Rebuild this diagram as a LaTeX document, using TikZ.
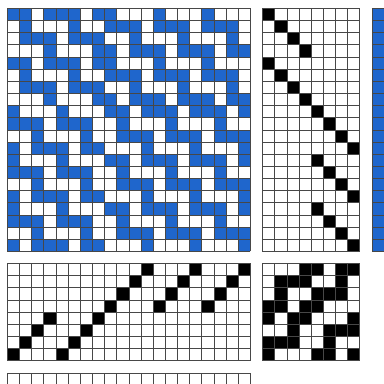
\documentclass[tikz,border=0pt]{standalone}
\usepackage{tikz}
\definecolor{pickblue}{RGB}{31,102,204}

\begin{document}
\begin{tikzpicture}[
  x=4mm, y=4mm,
  gridline/.style={draw=black!72, line width=0.5pt, step=1},
  bluecell/.style={fill=pickblue},
  blackcell/.style={fill=black}
]
\useasboundingbox (-0.6,0.68) rectangle (31.0,-30.84);
\clip (-0.6,0.68) rectangle (31.0,-30.84);

% drawdown (row / blue columns)
\foreach \r/\cols in {
  1/{1,2,4,5,6,8,9,13,17},
  2/{2,6,9,10,11,13,14,15,17,18,19},
  3/{2,3,4,6,7,8,11,15,19},
  4/{4,8,9,11,12,13,15,16,17,19,20},
  5/{1,2,4,5,6,8,9,13,17},
  6/{2,6,9,10,11,13,14,15,17,18,19},
  7/{2,3,4,6,7,8,11,15,19},
  8/{4,8,9,11,12,13,15,16,17,19,20},
  9/{1,5,9,10,12,13,14,16,17,18,20},
  10/{1,2,3,5,6,7,10,14,18},
  11/{3,7,10,11,12,14,15,16,18,19,20},
  12/{1,3,4,5,7,8,12,16,20},
  13/{1,5,9,10,12,13,14,16,17,18,20},
  14/{1,2,3,5,6,7,10,14,18},
  15/{3,7,10,11,12,14,15,16,18,19,20},
  16/{1,3,4,5,7,8,12,16,20},
  17/{1,5,9,10,12,13,14,16,17,18,20},
  18/{1,2,3,5,6,7,10,14,18},
  19/{3,7,10,11,12,14,15,16,18,19,20},
  20/{1,3,4,5,7,8,12,16,20}}
  \foreach \c in \cols
    \fill[bluecell] (\c-1,1-\r) rectangle (\c,-\r);
\draw[gridline] (0,-20) grid (20,0);

% threading (column / row)
\foreach \c/\r in {1/8,2/7,3/6,4/5,5/8,6/7,7/6,8/5,9/4,10/3,
                   11/2,12/1,13/4,14/3,15/2,16/1,17/4,18/3,19/2,20/1}
  \fill[blackcell] (\c-1,-20-\r) rectangle (\c,-21-\r);
\draw[gridline] (0,-29) grid (20,-21);

% treadling (row / treadle)
\foreach \r/\t in {1/1,2/2,3/3,4/4,5/1,6/2,7/3,8/4,9/5,10/6,
                   11/7,12/8,13/5,14/6,15/7,16/8,17/5,18/6,19/7,20/8}
  \fill[blackcell] (20+\t,1-\r) rectangle (21+\t,-\r);
\draw[gridline] (21,-20) grid (29,0);

% tie-up (row / treadles)
\foreach \r/\cols in {1/{4,5,7,8}, 2/{2,3,4,7}, 3/{2,5,6,7}, 4/{1,2,4,5},
                      5/{1,3,4,8}, 6/{3,6,7,8}, 7/{1,2,3,6}, 8/{1,5,6,8}}
  \foreach \c in \cols
    \fill[blackcell] (20+\c,-20-\r) rectangle (21+\c,-21-\r);
\draw[gridline] (21,-29) grid (29,-21);

% colour strips
\fill[bluecell] (30,-20) rectangle (31,0);
\draw[gridline] (30,-20) grid (31,0);
\draw[gridline] (0,-31) grid (20,-30);
\end{tikzpicture}
\end{document}
